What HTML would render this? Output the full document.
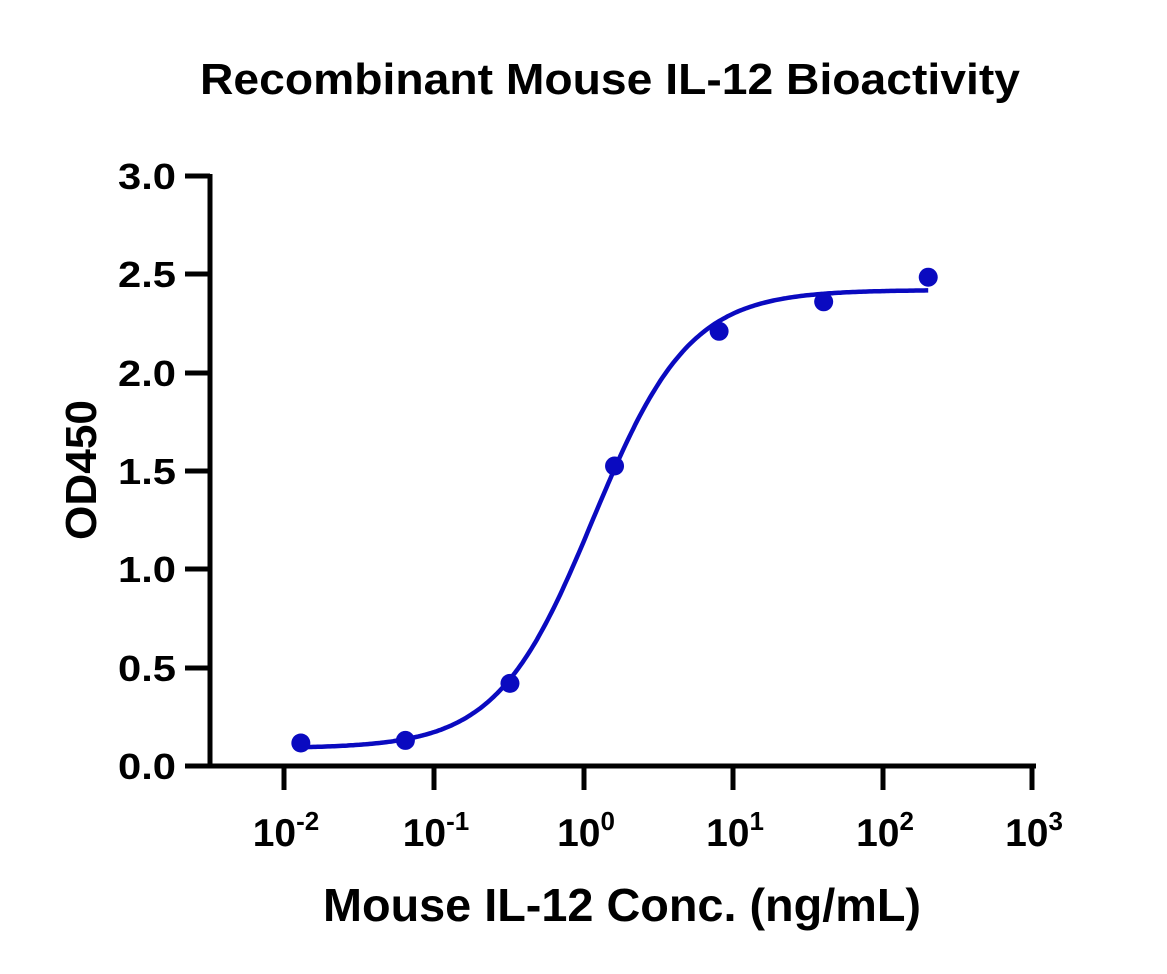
<!DOCTYPE html>
<html><head><meta charset="utf-8"><style>
html,body{margin:0;padding:0;background:#fff;}
svg{display:block;}
text{font-family:"Liberation Sans",sans-serif;font-weight:bold;fill:#000;}
</style></head><body>
<svg id="s" width="1167" height="974" viewBox="0 0 1167 974" xmlns="http://www.w3.org/2000/svg">
<text x="610" y="94" font-size="44" text-anchor="middle" textLength="820" lengthAdjust="spacingAndGlyphs">Recombinant Mouse IL-12 Bioactivity</text>
<g stroke="#000" stroke-width="5" fill="none">
<path d="M210 174 V768 M208 766 H1036"/>
<path d="M185 176 H210 M185 274 H210 M185 373 H210 M185 471 H210 M185 569 H210 M185 668 H210 M185 766 H210"/>
<path d="M284 766 V790 M434 766 V790 M584 766 V790 M733 766 V790 M883 766 V790 M1032 766 V790"/>
</g>
<g font-size="36" text-anchor="end">
<text x="176" y="189" textLength="58" lengthAdjust="spacingAndGlyphs">3.0</text><text x="176" y="287" textLength="58" lengthAdjust="spacingAndGlyphs">2.5</text><text x="176" y="386" textLength="58" lengthAdjust="spacingAndGlyphs">2.0</text>
<text x="176" y="484" textLength="58" lengthAdjust="spacingAndGlyphs">1.5</text><text x="176" y="582" textLength="58" lengthAdjust="spacingAndGlyphs">1.0</text><text x="176" y="681" textLength="58" lengthAdjust="spacingAndGlyphs">0.5</text><text x="176" y="779" textLength="58" lengthAdjust="spacingAndGlyphs">0.0</text>
</g>
<g font-size="39" text-anchor="middle">
<text x="286" y="846">10<tspan font-size="26" dy="-16">-2</tspan></text>
<text x="436" y="846">10<tspan font-size="26" dy="-16">-1</tspan></text>
<text x="586" y="846">10<tspan font-size="26" dy="-16">0</tspan></text>
<text x="735" y="846">10<tspan font-size="26" dy="-16">1</tspan></text>
<text x="885" y="846">10<tspan font-size="26" dy="-16">2</tspan></text>
<text x="1034" y="846">10<tspan font-size="26" dy="-16">3</tspan></text>
</g>
<text x="622" y="921" font-size="46" text-anchor="middle" textLength="598" lengthAdjust="spacingAndGlyphs">Mouse IL-12 Conc. (ng/mL)</text>
<text transform="translate(96 470) rotate(-90)" font-size="44" text-anchor="middle" textLength="140" lengthAdjust="spacingAndGlyphs">OD450</text>
<path id="c" fill="none" stroke="#0a0ac0" stroke-width="4.5"/>
<g id="p" fill="#0a0ac0"></g>
</svg>
<script>
var X=function(l){return 584+l*149.6},Y=function(v){return 766-v*196.7};
function f(c){var r=Math.pow(c/1.15,1.35);return 0.09+2.33*r/(1+r);}
var d="";for(var i=0;i<=300;i++){var l=Math.log10(0.0128)+i*(Math.log10(200)-Math.log10(0.0128))/300;d+=(i?"L":"M")+X(l).toFixed(1)+" "+Y(f(Math.pow(10,l))).toFixed(1);}
document.getElementById("c").setAttribute("d",d);
var pts=[[0.0128,0.117],[0.064,0.13],[0.32,0.42],[1.6,1.525],[8,2.21],[40,2.36],[200,2.485]],g="";
pts.forEach(function(p){g+='<circle cx="'+X(Math.log10(p[0]))+'" cy="'+Y(p[1])+'" r="9.5"/>';});
document.getElementById("p").innerHTML=g;
</script>
</body></html>
